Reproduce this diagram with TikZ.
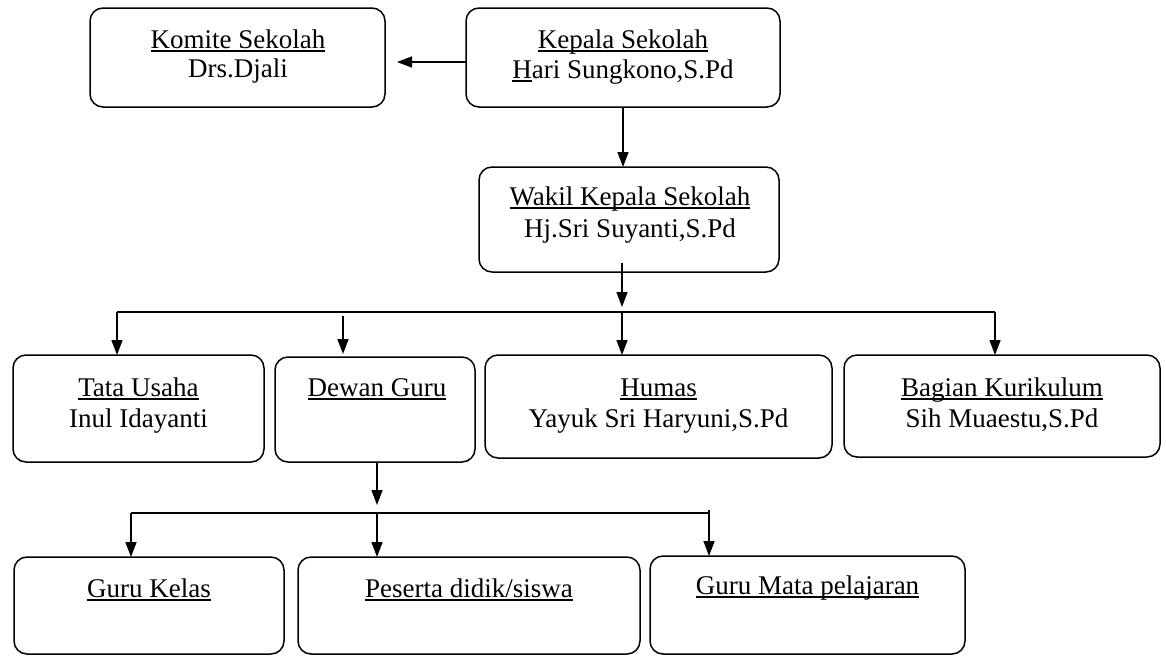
\documentclass[tikz,border=0pt]{standalone}
\usepackage{fontspec}
\setmainfont{Liberation Serif}
\usetikzlibrary{arrows.meta}
\newcommand\uln[1]{\setbox0\hbox{#1}\rlap{\copy0}\rule[-4pt]{\wd0}{1.6pt}}
\tikzset{
  box/.style={draw, line width=1.5pt, rounded corners=13pt, inner sep=0pt, outer sep=0pt},
  txt/.style={anchor=base, inner sep=0pt, font=\fontsize{27}{31}\selectfont},
  arr/.style={line width=1.5pt, -{Triangle[length=15pt,width=11pt]}},
  ln/.style={line width=1.5pt}
}
\begin{document}
\begin{tikzpicture}[x=1pt,y=-1pt]
\useasboundingbox (0,0) rectangle (1166,657);
% boxes
\node[box, minimum width=295pt, minimum height=99pt] (komite) at (237.5,57.5) {};
\node[box, minimum width=314pt, minimum height=99pt] (kepala) at (623,57.5) {};
\node[box, minimum width=300pt, minimum height=105pt] (wakil) at (629,219.5) {};
\node[box, minimum width=251pt, minimum height=107pt] (tata) at (138.5,408.5) {};
\node[box, minimum width=200pt, minimum height=105pt] (dewan) at (375,409.5) {};
\node[box, minimum width=347pt, minimum height=103pt] (humas) at (658.5,406.5) {};
\node[box, minimum width=316pt, minimum height=102pt] (kuri) at (1002,406) {};
\node[box, minimum width=270pt, minimum height=97pt] (gkelas) at (149,605.5) {};
\node[box, minimum width=342pt, minimum height=97pt] (peserta) at (469,605.5) {};
\node[box, minimum width=315pt, minimum height=98pt] (gmapel) at (807.5,605) {};
% texts
\node[txt] (t1) at (238,48) {\uln{Komite Sekolah}};
\node[txt] (t2) at (238,77) {Drs.Djali};
\node[txt] (t3) at (623,48) {\uln{Kepala Sekolah}};
\node[txt] (t4) at (623,78) {\uln{H}ari Sungkono,S.Pd};
\node[txt] (t5) at (630,205) {\uln{Wakil Kepala Sekolah}};
\node[txt] (t6) at (630,237) {Hj.Sri Suyanti,S.Pd};
\node[txt] (t7) at (138.5,396) {\uln{Tata Usaha}};
\node[txt] (t8) at (138.5,427) {Inul Idayanti};
\node[txt] (t9) at (377,396) {\uln{Dewan Guru}};
\node[txt] (t10) at (658.5,396) {\uln{Humas}};
\node[txt] (t11) at (658.5,427) {Yayuk Sri Haryuni,S.Pd};
\node[txt] (t12) at (1002,396) {\uln{Bagian Kurikulum}};
\node[txt] (t13) at (1002,427) {Sih Muaestu,S.Pd};
\node[txt] (t14) at (149,597) {\uln{Guru Kelas}};
\node[txt] (t15) at (469,597) {\uln{Peserta didik/siswa}};
\node[txt] (t16) at (807.5,594) {\uln{Guru Mata pelajaran}};
% coordinates
\coordinate (w1) at (622,263);
\coordinate (w2) at (622,307);
\coordinate (b1) at (117,312);
\coordinate (b2) at (995,312);
\coordinate (bh) at (622,312);
\coordinate (d1) at (343,316);
\coordinate (d2) at (343,354);
\coordinate (c1) at (377,505);
\coordinate (c2) at (131,513);
\coordinate (c3) at (709,510);
\coordinate (c4) at (377,513);
\coordinate (c5) at (709,513);
% connectors
\draw[arr, shorten >=12pt] (kepala.west |- 0,62) -- (komite.east |- 0,62);
\draw[arr] (kepala.south -| 623,0) -- (wakil.north -| 623,0);
\draw[arr] (w1) -- (w2);
\draw[ln] (b1) -- (b2);
\draw[arr] (b1) -- (tata.north -| b1);
\draw[arr] (d1) -- (d2);
\draw[arr] (bh) -- (humas.north -| bh);
\draw[arr] (b2) -- (kuri.north -| b2);
\draw[arr] (dewan.south -| c1) -- (c1);
\draw[ln] (c2) -- (c5) -- (c3);
\draw[arr] (c2) -- (gkelas.north -| c2);
\draw[arr] (c4) -- (peserta.north -| c4);
\draw[arr] (c3) -- (gmapel.north -| c3);
\end{tikzpicture}
\end{document}
